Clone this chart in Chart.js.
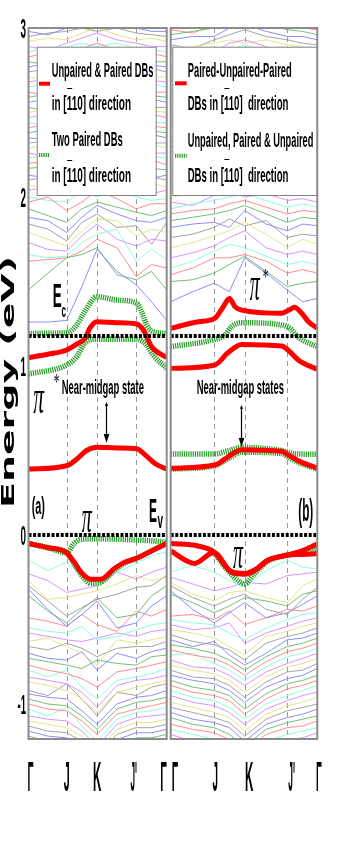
<!DOCTYPE html>
<html>
<head>
<meta charset="utf-8">
<script src="https://cdn.jsdelivr.net/npm/chart.js@4.4.0/dist/chart.umd.min.js"></script>
<style>
  html, body { margin: 0; padding: 0; background: #fff; width: 341px; height: 850px; overflow: hidden; }
  canvas { position: absolute; top: 0; }
  #panelA { left: 0; }
  #panelB { left: 169px; }
</style>
</head>
<body>
<canvas id="panelA" width="169" height="850"></canvas>
<canvas id="panelB" width="172" height="850"></canvas>
<script>
(function() {
    'use strict';

    // ---- axis data ----
    const kLabels = ['\u0393', 'J', 'K', "J'", '\u0393'];
    const yTickValues = [3, 2, 1, 0, -1];
    const yTickLabels = ['3', '2', '1', '0', '-1'];
    const energyRange = [-1.207, 3];
    const bandEdges = [0, 1.178];            // Ev, Ec

    // high symmetry points (fraction of path) for each panel
    const kSymA = [0, 0.276, 0.496, 0.78, 1];
    const kSymB = [0, 0.297, 0.505, 0.795, 1];
    // k grid used for the background bands
    const kGridA = [0, 0.14, 0.276, 0.386, 0.496, 0.64, 0.78, 0.89, 1];
    const kGridB = [0, 0.15, 0.297, 0.40, 0.505, 0.65, 0.795, 0.90, 1];

    // ---- panel (a) highlighted bands ----
    const aRedCondK = [0, 0.14, 0.276, 0.35, 0.41, 0.445, 0.494, 0.64, 0.783, 0.831, 0.891, 1];
    const aRedCondE = [1.05, 1.07, 1.095, 1.13, 1.165, 1.225, 1.262, 1.256, 1.249, 1.213, 1.114, 1.05];
    const aGreenUpK = [0, 0.276, 0.349, 0.421, 0.494, 0.64, 0.783, 0.819, 0.855, 0.903, 1];
    const aGreenUpE = [1.193, 1.197, 1.243, 1.341, 1.41, 1.39, 1.371, 1.321, 1.243, 1.203, 1.193];
    const aGreenLowK = [0, 0.276, 0.349, 0.409, 0.494, 0.64, 0.783, 0.855, 0.903, 1];
    const aGreenLowE = [0.953, 1.006, 1.055, 1.138, 1.158, 1.158, 1.158, 1.124, 1.065, 0.986];
    const aRedGapK = [0, 0.276, 0.35, 0.42, 0.494, 0.64, 0.783, 0.85, 0.92, 1];
    const aRedGapE = [0.39, 0.41, 0.45, 0.50, 0.52, 0.515, 0.51, 0.47, 0.42, 0.39];
    const aValK = [0, 0.14, 0.276, 0.33, 0.385, 0.45, 0.52, 0.626, 0.70, 0.783, 0.9, 1];
    const aRedValE = [-0.05, -0.075, -0.105, -0.16, -0.225, -0.262, -0.262, -0.195, -0.16, -0.136, -0.09, -0.05];
    const aGreenValE = [-0.05, -0.075, -0.105, -0.17, -0.24, -0.285, -0.28, -0.205, -0.165, -0.14, -0.09, -0.05];
    const aGreenValUpK = [0, 0.14, 0.276, 0.33, 0.37, 0.494, 0.64, 0.783, 0.9, 1];
    const aGreenValUpE = [-0.05, -0.075, -0.105, -0.05, -0.028, -0.022, -0.025, -0.03, -0.035, -0.045];

    // ---- panel (b) highlighted bands ----
    const bRedUpK = [0, 0.188, 0.30, 0.359, 0.40, 0.439, 0.484, 0.757, 0.814, 0.843, 0.894, 0.94, 1];
    const bRedUpE = [1.223, 1.262, 1.282, 1.351, 1.40, 1.351, 1.331, 1.312, 1.335, 1.347, 1.312, 1.262, 1.223];
    const bRedLowK = [0, 0.302, 0.386, 0.484, 0.757, 0.80, 0.87, 1];
    const bRedLowE = [0.986, 1.006, 1.075, 1.128, 1.118, 1.095, 1.036, 0.98];
    const bGreenCondK = [0, 0.302, 0.37, 0.416, 0.484, 0.757, 0.814, 0.87, 1];
    const bGreenCondE = [1.114, 1.158, 1.183, 1.233, 1.256, 1.243, 1.223, 1.17, 1.114];
    const bGapK = [0, 0.302, 0.37, 0.416, 0.484, 0.757, 0.80, 0.87, 1];
    const bRedGapE = [0.395, 0.414, 0.45, 0.478, 0.505, 0.495, 0.475, 0.44, 0.395];
    const bGreenGapLowE = [0.39, 0.41, 0.44, 0.465, 0.49, 0.482, 0.462, 0.43, 0.39];
    const bGreenGapUpK = [0, 0.30, 0.40, 0.484, 0.60, 0.757, 0.85, 1];
    const bGreenGapUpE = [0.479, 0.48, 0.50, 0.518, 0.515, 0.50, 0.48, 0.478];
    const bRedVal1K = [0, 0.186, 0.295, 0.414, 0.505, 0.573, 0.664, 0.795, 0.891, 1];
    const bRedVal1E = [-0.05, -0.065, -0.10, -0.217, -0.227, -0.207, -0.148, -0.118, -0.095, -0.053];
    const bRedVal2K = [0, 0.164, 0.27, 0.295, 0.414, 0.505, 0.573, 0.664, 0.795, 0.891, 1];
    const bRedVal2E = [-0.095, -0.168, -0.11, -0.105, -0.22, -0.232, -0.21, -0.15, -0.12, -0.115, -0.11];
    const bGreenValK = [0.295, 0.40, 0.46, 0.505, 0.56, 0.664, 0.795, 0.891, 1];
    const bGreenValE = [-0.105, -0.22, -0.27, -0.29, -0.24, -0.155, -0.12, -0.10, -0.08];

    // ---- background bands, panel (a) ----
    const condA = [
        [1.26, 1.26, 1.27, 1.47, 1.69, 1.56, 1.48, 1.38, 1.27],
        [1.45, 1.55, 1.64, 1.66, 1.70, 1.54, 1.51, 1.56, 1.45],
        [1.62, 1.63, 1.64, 1.68, 1.75, 1.70, 1.53, 1.60, 1.58],
        [1.66, 1.64, 1.65, 1.73, 1.78, 1.81, 1.62, 1.69, 1.63],
        [1.73, 1.69, 1.68, 1.77, 1.84, 1.75, 1.71, 1.75, 1.74],
        [1.79, 1.75, 1.71, 1.80, 1.87, 1.86, 1.77, 1.81, 1.79],
        [1.84, 1.81, 1.74, 1.85, 1.90, 1.82, 1.83, 1.72, 1.85],
        [1.88, 1.86, 1.79, 1.88, 1.95, 1.90, 1.86, 1.85, 1.88],
        [1.93, 1.89, 1.85, 1.93, 1.97, 1.94, 1.91, 1.89, 1.92],
        [1.97, 2.00, 1.92, 1.97, 2.04, 1.99, 1.93, 1.96, 1.96],
        [2.00, 1.98, 1.97, 2.03, 2.00, 2.04, 2.00, 1.98, 1.99],
        [2.04, 2.06, 2.02, 2.06, 2.10, 2.05, 2.05, 2.02, 2.04],
        [2.07, 2.05, 2.08, 2.11, 2.07, 2.10, 2.07, 2.08, 2.06],
        [2.10, 2.12, 2.10, 2.14, 2.16, 2.13, 2.10, 2.12, 2.10],
        [2.13, 2.11, 2.15, 2.17, 2.20, 2.15, 2.14, 2.11, 2.13],
        [2.17, 2.18, 2.14, 2.20, 2.23, 2.20, 2.17, 2.17, 2.16],
        [2.20, 2.21, 2.20, 2.24, 2.22, 2.23, 2.20, 2.22, 2.19],
        [2.23, 2.25, 2.23, 2.26, 2.30, 2.26, 2.24, 2.24, 2.23],
        [2.26, 2.24, 2.28, 2.30, 2.27, 2.30, 2.27, 2.26, 2.26],
        [2.29, 2.31, 2.29, 2.33, 2.35, 2.32, 2.29, 2.31, 2.29],
        [2.32, 2.33, 2.34, 2.36, 2.39, 2.35, 2.33, 2.32, 2.32],
        [2.35, 2.34, 2.37, 2.40, 2.37, 2.38, 2.36, 2.37, 2.35],
        [2.38, 2.40, 2.38, 2.42, 2.45, 2.41, 2.39, 2.39, 2.38],
        [2.41, 2.43, 2.43, 2.46, 2.43, 2.45, 2.42, 2.42, 2.41],
        [2.44, 2.42, 2.46, 2.48, 2.51, 2.47, 2.46, 2.44, 2.44],
        [2.47, 2.49, 2.48, 2.52, 2.53, 2.51, 2.48, 2.49, 2.47],
        [2.50, 2.52, 2.53, 2.55, 2.52, 2.55, 2.51, 2.51, 2.50],
        [2.53, 2.51, 2.55, 2.58, 2.61, 2.57, 2.55, 2.53, 2.53],
        [2.56, 2.58, 2.57, 2.61, 2.63, 2.60, 2.57, 2.58, 2.56],
        [2.59, 2.61, 2.62, 2.64, 2.61, 2.64, 2.61, 2.60, 2.59],
        [2.62, 2.60, 2.64, 2.67, 2.70, 2.66, 2.64, 2.62, 2.62],
        [2.65, 2.67, 2.66, 2.70, 2.73, 2.69, 2.66, 2.67, 2.65],
        [2.68, 2.70, 2.71, 2.73, 2.71, 2.73, 2.70, 2.69, 2.68],
        [2.71, 2.69, 2.73, 2.76, 2.79, 2.75, 2.73, 2.71, 2.71],
        [2.74, 2.76, 2.75, 2.79, 2.82, 2.78, 2.75, 2.76, 2.74],
        [2.77, 2.79, 2.80, 2.82, 2.80, 2.82, 2.79, 2.78, 2.77],
        [2.80, 2.78, 2.82, 2.85, 2.88, 2.84, 2.82, 2.80, 2.80],
        [2.83, 2.85, 2.84, 2.88, 2.91, 2.87, 2.84, 2.85, 2.83],
        [2.86, 2.88, 2.89, 2.91, 2.89, 2.91, 2.88, 2.87, 2.86],
        [2.89, 2.87, 2.91, 2.94, 2.97, 2.93, 2.91, 2.89, 2.89],
        [2.92, 2.94, 2.93, 2.97, 3.00, 2.96, 2.93, 2.94, 2.92],
        [2.95, 2.97, 2.98, 3.00, 2.98, 3.00, 2.97, 2.96, 2.95],
        [2.98, 2.96, 3.00, 3.03, 3.06, 3.02, 3.00, 2.98, 2.98],
        [3.01, 3.03, 3.02, 3.06, 3.09, 3.05, 3.02, 3.03, 3.01]
    ];
    const valA = [
        [-0.15, -0.21, -0.16, -0.24, -0.31, -0.22, -0.17, -0.12, -0.10],
        [-0.23, -0.27, -0.34, -0.32, -0.30, -0.22, -0.26, -0.22, -0.19],
        [-0.27, -0.38, -0.37, -0.35, -0.33, -0.29, -0.24, -0.27, -0.25],
        [-0.30, -0.39, -0.48, -0.43, -0.38, -0.35, -0.31, -0.30, -0.24],
        [-0.32, -0.44, -0.54, -0.47, -0.39, -0.55, -0.52, -0.42, -0.36],
        [-0.36, -0.45, -0.52, -0.44, -0.37, -0.49, -0.47, -0.36, -0.30],
        [-0.49, -0.51, -0.54, -0.47, -0.53, -0.57, -0.45, -0.48, -0.44],
        [-0.55, -0.57, -0.58, -0.54, -0.62, -0.60, -0.56, -0.53, -0.52],
        [-0.58, -0.60, -0.62, -0.63, -0.61, -0.58, -0.60, -0.57, -0.56],
        [-0.63, -0.61, -0.66, -0.70, -0.77, -0.62, -0.64, -0.62, -0.60],
        [-0.66, -0.68, -0.64, -0.67, -0.72, -0.67, -0.66, -0.66, -0.63],
        [-0.70, -0.73, -0.74, -0.69, -0.80, -0.70, -0.73, -0.69, -0.67],
        [-0.73, -0.75, -0.77, -0.79, -0.74, -0.76, -0.77, -0.72, -0.71],
        [-0.77, -0.80, -0.82, -0.85, -0.90, -0.81, -0.79, -0.77, -0.75],
        [-0.80, -0.84, -0.80, -0.90, -0.97, -0.86, -0.84, -0.82, -0.79],
        [-0.84, -0.86, -0.88, -0.93, -1.02, -0.89, -0.86, -0.85, -0.83],
        [-0.87, -0.89, -0.92, -0.97, -1.05, -0.93, -0.90, -0.88, -0.86],
        [-0.92, -0.95, -0.88, -0.97, -1.07, -0.93, -0.95, -0.90, -0.88],
        [-0.94, -0.96, -0.97, -1.04, -1.12, -1.00, -0.96, -0.95, -0.92],
        [-0.97, -1.00, -1.01, -1.07, -1.15, -1.03, -0.99, -0.98, -0.96],
        [-1.00, -1.03, -1.04, -1.10, -1.18, -1.06, -1.03, -1.01, -0.99],
        [-1.03, -1.07, -1.02, -1.13, -1.22, -1.09, -1.05, -1.04, -1.02],
        [-1.07, -1.09, -1.10, -1.16, -1.25, -1.12, -1.08, -1.07, -1.06],
        [-1.10, -1.12, -1.14, -1.19, -1.28, -1.15, -1.11, -1.11, -1.09],
        [-1.13, -1.16, -1.17, -1.22, -1.30, -1.18, -1.14, -1.14, -1.12],
        [-1.16, -1.19, -1.20, -1.25, -1.33, -1.21, -1.17, -1.17, -1.15],
        [-1.19, -1.22, -1.23, -1.28, -1.35, -1.24, -1.20, -1.20, -1.18],
        [-1.22, -1.25, -1.26, -1.31, -1.38, -1.27, -1.23, -1.23, -1.21]
    ];

    // ---- background bands, panel (b) ----
    const condB = [
        [1.38, 1.44, 1.49, 1.44, 1.64, 1.55, 1.45, 1.38, 1.40],
        [1.50, 1.51, 1.55, 1.60, 1.65, 1.56, 1.47, 1.49, 1.50],
        [1.54, 1.58, 1.64, 1.64, 1.66, 1.62, 1.55, 1.57, 1.55],
        [1.58, 1.62, 1.68, 1.72, 1.70, 1.65, 1.60, 1.62, 1.60],
        [1.64, 1.67, 1.71, 1.76, 1.80, 1.70, 1.66, 1.68, 1.66],
        [1.70, 1.73, 1.77, 1.80, 1.85, 1.78, 1.70, 1.75, 1.72],
        [1.76, 1.78, 1.82, 1.87, 1.83, 1.86, 1.76, 1.78, 1.77],
        [1.82, 1.84, 1.85, 1.82, 1.92, 1.84, 1.80, 1.84, 1.83],
        [1.86, 1.88, 1.90, 1.92, 1.95, 1.90, 1.85, 1.88, 1.87],
        [1.90, 1.92, 1.93, 1.96, 1.98, 1.94, 1.90, 1.92, 1.91],
        [1.93, 1.96, 1.98, 2.00, 2.02, 1.98, 1.94, 1.96, 1.94],
        [1.97, 1.95, 2.01, 2.04, 2.00, 2.02, 1.98, 1.99, 1.97],
        [2.00, 2.02, 2.03, 2.07, 2.09, 2.05, 2.01, 2.03, 2.01],
        [2.04, 2.06, 2.08, 2.06, 2.12, 2.09, 2.05, 2.06, 2.04],
        [2.07, 2.05, 2.10, 2.13, 2.16, 2.11, 2.09, 2.07, 2.08],
        [2.11, 2.13, 2.12, 2.16, 2.14, 2.15, 2.11, 2.12, 2.11],
        [2.14, 2.16, 2.17, 2.19, 2.22, 2.18, 2.15, 2.16, 2.14],
        [2.17, 2.15, 2.20, 2.23, 2.25, 2.21, 2.19, 2.18, 2.18],
        [2.21, 2.23, 2.22, 2.26, 2.24, 2.25, 2.21, 2.23, 2.21],
        [2.24, 2.26, 2.27, 2.29, 2.32, 2.28, 2.25, 2.25, 2.24],
        [2.27, 2.25, 2.30, 2.33, 2.30, 2.31, 2.29, 2.28, 2.27],
        [2.30, 2.32, 2.32, 2.36, 2.38, 2.34, 2.31, 2.32, 2.30],
        [2.33, 2.35, 2.37, 2.39, 2.36, 2.38, 2.35, 2.34, 2.33],
        [2.36, 2.34, 2.39, 2.42, 2.45, 2.41, 2.39, 2.37, 2.36],
        [2.39, 2.41, 2.41, 2.45, 2.48, 2.44, 2.41, 2.41, 2.39],
        [2.42, 2.44, 2.46, 2.48, 2.46, 2.48, 2.45, 2.44, 2.42],
        [2.45, 2.43, 2.48, 2.51, 2.54, 2.50, 2.48, 2.46, 2.45],
        [2.48, 2.50, 2.50, 2.55, 2.57, 2.53, 2.50, 2.50, 2.48],
        [2.51, 2.53, 2.55, 2.57, 2.55, 2.57, 2.54, 2.53, 2.51],
        [2.54, 2.52, 2.57, 2.60, 2.63, 2.59, 2.57, 2.55, 2.54],
        [2.57, 2.59, 2.59, 2.64, 2.66, 2.62, 2.59, 2.59, 2.57],
        [2.60, 2.62, 2.64, 2.66, 2.64, 2.66, 2.63, 2.62, 2.60],
        [2.63, 2.61, 2.66, 2.69, 2.72, 2.68, 2.66, 2.64, 2.63],
        [2.66, 2.68, 2.68, 2.73, 2.75, 2.71, 2.68, 2.68, 2.66],
        [2.69, 2.71, 2.73, 2.75, 2.73, 2.75, 2.72, 2.71, 2.69],
        [2.72, 2.70, 2.75, 2.78, 2.81, 2.77, 2.75, 2.73, 2.72],
        [2.75, 2.77, 2.77, 2.82, 2.84, 2.80, 2.77, 2.77, 2.75],
        [2.78, 2.80, 2.82, 2.84, 2.82, 2.84, 2.81, 2.80, 2.78],
        [2.81, 2.79, 2.84, 2.87, 2.90, 2.86, 2.84, 2.82, 2.81],
        [2.84, 2.86, 2.86, 2.91, 2.93, 2.89, 2.86, 2.86, 2.84],
        [2.87, 2.89, 2.91, 2.93, 2.91, 2.93, 2.90, 2.89, 2.87],
        [2.90, 2.88, 2.93, 2.96, 2.99, 2.95, 2.93, 2.91, 2.90],
        [2.93, 2.95, 2.95, 3.00, 3.02, 2.98, 2.95, 2.95, 2.93],
        [2.96, 2.98, 3.00, 3.02, 3.00, 3.02, 2.99, 2.98, 2.96],
        [2.99, 2.97, 3.02, 3.05, 3.08, 3.04, 3.02, 3.00, 2.99]
    ];
    const valB = [
        [-0.22, -0.18, -0.22, -0.27, -0.31, -0.21, -0.15, -0.19, -0.20],
        [-0.25, -0.29, -0.33, -0.31, -0.28, -0.29, -0.24, -0.23, -0.22],
        [-0.28, -0.35, -0.39, -0.34, -0.33, -0.37, -0.40, -0.30, -0.26],
        [-0.30, -0.37, -0.42, -0.38, -0.35, -0.44, -0.47, -0.38, -0.31],
        [-0.33, -0.44, -0.52, -0.46, -0.40, -0.49, -0.46, -0.41, -0.36],
        [-0.35, -0.40, -0.46, -0.42, -0.37, -0.39, -0.42, -0.35, -0.33],
        [-0.48, -0.47, -0.50, -0.45, -0.53, -0.49, -0.44, -0.45, -0.42],
        [-0.50, -0.52, -0.53, -0.58, -0.62, -0.55, -0.50, -0.47, -0.46],
        [-0.53, -0.56, -0.55, -0.52, -0.64, -0.58, -0.54, -0.51, -0.49],
        [-0.56, -0.58, -0.61, -0.66, -0.71, -0.60, -0.57, -0.54, -0.52],
        [-0.59, -0.63, -0.65, -0.68, -0.74, -0.64, -0.60, -0.58, -0.55],
        [-0.62, -0.66, -0.63, -0.71, -0.77, -0.70, -0.62, -0.61, -0.58],
        [-0.65, -0.67, -0.70, -0.74, -0.80, -0.72, -0.66, -0.64, -0.61],
        [-0.68, -0.71, -0.73, -0.77, -0.83, -0.75, -0.69, -0.67, -0.64],
        [-0.71, -0.70, -0.76, -0.80, -0.86, -0.78, -0.72, -0.70, -0.67],
        [-0.74, -0.78, -0.79, -0.83, -0.89, -0.81, -0.76, -0.73, -0.70],
        [-0.77, -0.80, -0.82, -0.86, -0.93, -0.84, -0.78, -0.76, -0.73],
        [-0.80, -0.84, -0.85, -0.89, -0.96, -0.87, -0.81, -0.80, -0.76],
        [-0.83, -0.86, -0.88, -0.92, -0.99, -0.90, -0.85, -0.83, -0.79],
        [-0.86, -0.90, -0.92, -0.95, -1.03, -0.94, -0.88, -0.86, -0.83],
        [-0.89, -0.93, -0.95, -0.98, -1.06, -0.97, -0.91, -0.89, -0.86],
        [-0.92, -0.96, -0.98, -1.02, -1.09, -1.00, -0.95, -0.92, -0.89],
        [-0.95, -0.99, -1.01, -1.05, -1.12, -1.03, -0.98, -0.95, -0.93],
        [-0.99, -1.02, -1.05, -1.08, -1.16, -1.06, -1.01, -0.99, -0.96],
        [-1.02, -1.05, -1.08, -1.11, -1.19, -1.09, -1.04, -1.02, -1.00],
        [-1.05, -1.09, -1.11, -1.14, -1.22, -1.12, -1.08, -1.06, -1.03],
        [-1.08, -1.12, -1.14, -1.18, -1.25, -1.15, -1.11, -1.09, -1.07],
        [-1.12, -1.15, -1.17, -1.21, -1.28, -1.18, -1.14, -1.13, -1.10],
        [-1.15, -1.18, -1.21, -1.24, -1.31, -1.22, -1.18, -1.16, -1.14],
        [-1.18, -1.22, -1.24, -1.27, -1.34, -1.25, -1.21, -1.20, -1.17],
        [-1.21, -1.25, -1.27, -1.30, -1.37, -1.28, -1.24, -1.23, -1.21]
    ];

    // ---- legend text ----
    const aLegendLines = ['Unpaired & Paired DBs', 'in [110] direction', 'Two Paired DBs', 'in [110] direction'];
    const bLegendLines = ['Paired-Unpaired-Paired', 'DBs in [110]  direction', 'Unpaired, Paired & Unpaired', 'DBs in [110]  direction'];

    const SANS = '"Liberation Sans Narrow", "Liberation Sans", Arial, sans-serif';
    const SERIF = '"Liberation Serif", "DejaVu Serif", serif';
    const PALETTE = ['#8080ff', '#66b866', '#ff8080', '#7fffd8', '#d488ff', '#e2e27a', '#9a9a9a'];
    const RED = '#ff0000';
    const GREEN = '#229f22';

    function fontString(size, opt) {
        return (opt.style || 'normal') + ' ' + (opt.weight || 'normal') + ' ' + size + 'px ' + (opt.family || SANS);
    }

    // draw text squeezed / stretched to a given width, returns the x scale used
    function fitText(ctx, str, x, y, size, width, opt) {
        opt = opt || {};
        ctx.save();
        ctx.font = fontString(size, opt);
        ctx.fillStyle = '#000';
        ctx.textBaseline = 'alphabetic';
        ctx.textAlign = 'left';
        const w = ctx.measureText(str).width;
        const sx = width / w;
        ctx.translate(x, y);
        if (opt.rotate) ctx.rotate(opt.rotate);
        ctx.scale(sx, 1);
        let ax = 0;
        if (opt.align === 'center') ax = -w / 2;
        if (opt.align === 'right') ax = -w;
        ctx.fillText(str, ax, 0);
        ctx.restore();
        return sx;
    }

    function pairs(k, e) {
        return k.map((x, i) => ({ x: x, y: e[i] }));
    }

    function backgroundSets(kGrid, bands, offset) {
        return bands.map((vals, i) => ({
            data: pairs(kGrid, vals),
            borderColor: PALETTE[(i + offset) % PALETTE.length],
            borderWidth: 0.9,
            pointRadius: 0,
            tension: 0,
            order: 10
        }));
    }

    function redSet(k, e) {
        return {
            data: pairs(k, e), borderColor: RED, borderWidth: 5, pointRadius: 0,
            cubicInterpolationMode: 'monotone', borderCapStyle: 'butt', order: 3
        };
    }

    function greenSet(k, e) {
        return {
            data: pairs(k, e), borderColor: GREEN, borderWidth: 5.5, pointRadius: 0,
            borderDash: [1.2, 1], cubicInterpolationMode: 'monotone', order: 4
        };
    }

    function edgeSets() {
        return bandEdges.map(e => ({
            data: [{ x: 0, y: e }, { x: 1, y: e }],
            borderColor: '#000', borderWidth: 4, borderDash: [3, 1.6],
            pointRadius: 0, order: 1
        }));
    }

    function makeDecor(cfg) {
        return {
            id: 'decor',
            beforeDatasetsDraw(chart) {
                const { ctx, chartArea: a, scales: { x } } = chart;
                ctx.save();
                ctx.strokeStyle = '#9a9a9a';
                ctx.lineWidth = 1;
                ctx.setLineDash([5, 4]);
                cfg.kSym.slice(1, -1).forEach(k => {
                    const px = Math.round(x.getPixelForValue(k)) + 0.5;
                    ctx.beginPath();
                    ctx.moveTo(px, a.top);
                    ctx.lineTo(px, a.bottom);
                    ctx.stroke();
                });
                ctx.restore();
            },
            afterDatasetsDraw(chart) {
                const { ctx, chartArea: a, scales: { x, y } } = chart;
                const L = cfg.legend;
                const textOpt = { weight: 'bold' };

                // legend box
                ctx.save();
                ctx.fillStyle = '#fff';
                ctx.strokeStyle = '#808080';
                ctx.lineWidth = 1;
                ctx.fillRect(a.left + L.box[0], a.top + L.box[1], L.box[2], L.box[3]);
                ctx.strokeRect(a.left + L.box[0] + 0.5, a.top + L.box[1] + 0.5, L.box[2], L.box[3]);

                // legend samples
                ctx.lineWidth = 4;
                ctx.strokeStyle = RED;
                ctx.beginPath();
                ctx.moveTo(a.left + L.sampleX[0], a.top + L.sampleY[0]);
                ctx.lineTo(a.left + L.sampleX[1], a.top + L.sampleY[0]);
                ctx.stroke();
                ctx.strokeStyle = GREEN;
                ctx.setLineDash([1.2, 1]);
                ctx.beginPath();
                ctx.moveTo(a.left + L.sampleX[0], a.top + L.sampleY[1]);
                ctx.lineTo(a.left + L.sampleX[1], a.top + L.sampleY[1]);
                ctx.stroke();
                ctx.restore();

                // legend text, with the bar over the first "1"
                L.lines.forEach((str, i) => {
                    const tx = a.left + L.textX;
                    const ty = a.top + L.baselines[i];
                    const sx = fitText(ctx, str, tx, ty, L.size, L.widths[i], textOpt);
                    const idx = str.indexOf('[1');
                    if (idx >= 0) {
                        ctx.save();
                        ctx.font = fontString(L.size, textOpt);
                        const pre = ctx.measureText(str.slice(0, idx + 1)).width * sx;
                        const one = ctx.measureText('1').width * sx;
                        ctx.strokeStyle = '#000';
                        ctx.lineWidth = 1;
                        ctx.beginPath();
                        ctx.moveTo(tx + pre + 0.5, Math.round(ty - L.size * 1.06) + 0.5);
                        ctx.lineTo(tx + pre + one, Math.round(ty - L.size * 1.06) + 0.5);
                        ctx.stroke();
                        ctx.restore();
                    }
                });

                // in-plot annotations
                cfg.notes.forEach(n => {
                    fitText(ctx, n.t, x.getPixelForValue(n.k), y.getPixelForValue(n.e), n.size, n.w, {
                        family: n.serif ? SERIF : SANS,
                        style: n.serif ? 'italic' : 'normal',
                        weight: n.serif ? 'normal' : 'bold'
                    });
                });

                // arrow to the near-midgap state
                const ar = cfg.arrow;
                const axp = Math.round(x.getPixelForValue(ar.k)) + 0.5;
                const y1 = y.getPixelForValue(ar.e1);
                const y2 = y.getPixelForValue(ar.e2);
                ctx.save();
                ctx.strokeStyle = '#000';
                ctx.fillStyle = '#000';
                ctx.lineWidth = 1.2;
                ctx.beginPath();
                ctx.moveTo(axp, y1 + 2);
                ctx.lineTo(axp, y2 - 6);
                ctx.stroke();
                ctx.beginPath();
                ctx.moveTo(axp - 2.8, y2 - 9);
                ctx.lineTo(axp + 2.8, y2 - 9);
                ctx.lineTo(axp, y2);
                ctx.closePath();
                ctx.fill();
                ctx.beginPath();
                ctx.moveTo(axp - 1.6, y1 + 4);
                ctx.lineTo(axp + 1.6, y1 + 4);
                ctx.lineTo(axp, y1);
                ctx.closePath();
                ctx.fill();
                ctx.restore();
            },
            afterDraw(chart) {
                const { ctx, chartArea: a, scales: { x, y } } = chart;

                // frame
                ctx.save();
                ctx.strokeStyle = '#8c8c8c';
                ctx.lineWidth = 2;
                ctx.strokeRect(a.left, a.top, a.right - a.left, a.bottom - a.top);
                ctx.restore();

                // k-point labels
                cfg.xLabels.forEach((lb, i) => {
                    fitText(ctx, kLabels[i], x.getPixelForValue(lb.k) + lb.dx, 791, 42, lb.w, {
                        align: lb.align, weight: 'bold'
                    });
                });

                if (!cfg.yAxis) return;

                // energy ticks
                yTickValues.forEach((v, i) => {
                    fitText(ctx, yTickLabels[i], a.left - 2.5, y.getPixelForValue(v) + 10, 27,
                        yTickLabels[i].length > 1 ? 8.5 : 5.5, { align: 'right', weight: 'bold' });
                });

                // axis title
                fitText(ctx, 'Energy (eV)', 13.5, 382, 17, 252, {
                    align: 'center', weight: 'bold', family: '"DejaVu Sans", sans-serif', rotate: -Math.PI / 2
                });
            }
        };
    }

    function buildChart(canvasId, datasets, padding, decor) {
        return new Chart(document.getElementById(canvasId), {
            type: 'line',
            data: { datasets: datasets },
            options: {
                responsive: false,
                animation: false,
                events: [],
                layout: { padding: padding },
                plugins: { legend: { display: false }, tooltip: { enabled: false } },
                scales: {
                    x: { type: 'linear', min: 0, max: 1, display: false },
                    y: { type: 'linear', min: energyRange[0], max: energyRange[1], display: false }
                }
            },
            plugins: [decor]
        });
    }

    // ---- panel (a) ----
    const setsA = []
        .concat(backgroundSets(kGridA, condA, 0))
        .concat(backgroundSets(kGridA, valA, 3))
        .concat([
            greenSet(aGreenUpK, aGreenUpE),
            greenSet(aGreenLowK, aGreenLowE),
            greenSet(aValK, aGreenValE),
            greenSet(aGreenValUpK, aGreenValUpE),
            redSet(aRedCondK, aRedCondE),
            redSet(aRedGapK, aRedGapE),
            redSet(aValK, aRedValE)
        ])
        .concat(edgeSets());

    buildChart('panelA', setsA, { left: 28.5, right: 2.3, top: 28, bottom: 111 }, makeDecor({
        kSym: kSymA,
        yAxis: true,
        legend: {
            box: [8.2, 18.7, 119, 148.3],
            sampleX: [10.5, 21.5], sampleY: [55.7, 127],
            textX: 23.2, size: 21,
            baselines: [48.7, 82, 118, 154],
            widths: [101.6, 79.3, 71, 79.3],
            lines: aLegendLines
        },
        notes: [
            { t: 'E', k: 0.175, e: 1.351, size: 33, w: 9 },
            { t: 'c', k: 0.239, e: 1.292, size: 19, w: 4.5 },
            { t: '\u03c0', k: 0.035, e: 0.722, size: 48, w: 10.7, serif: true },
            { t: '*', k: 0.179, e: 0.864, size: 24, w: 5.5, serif: true },
            { t: 'Near-midgap state', k: 0.24, e: 0.834, size: 21, w: 82.3 },
            { t: '(a)', k: 0.023, e: 0.127, size: 23, w: 13.3 },
            { t: 'E', k: 0.872, e: 0.077, size: 33, w: 8 },
            { t: 'v', k: 0.933, e: 0.04, size: 22, w: 5.5 },
            { t: '\u03c0', k: 0.385, e: 0.02, size: 46, w: 10, serif: true }
        ],
        arrow: { k: 0.561, e1: 0.787, e2: 0.544 },
        xLabels: [
            { k: 0, align: 'left', dx: -1, w: 6 },
            { k: 0.276, align: 'center', dx: 0, w: 6 },
            { k: 0.496, align: 'center', dx: 0, w: 8.3 },
            { k: 0.78, align: 'center', dx: -2.5, w: 6.5 },
            { k: 1, align: 'right', dx: 0, w: 6.5 }
        ]
    }));

    // ---- panel (b) ----
    const setsB = []
        .concat(backgroundSets(kGridB, condB, 0))
        .concat(backgroundSets(kGridB, valB, 3))
        .concat([
            greenSet(bGreenCondK, bGreenCondE),
            greenSet(bGreenGapUpK, bGreenGapUpE),
            greenSet(bGapK, bGreenGapLowE),
            greenSet(bGreenValK, bGreenValE),
            redSet(bRedUpK, bRedUpE),
            redSet(bRedLowK, bRedLowE),
            redSet(bGapK, bRedGapE),
            redSet(bRedVal1K, bRedVal1E),
            redSet(bRedVal2K, bRedVal2E)
        ])
        .concat(edgeSets());

    buildChart('panelB', setsB, { left: 1.7, right: 23.7, top: 28, bottom: 111 }, makeDecor({
        kSym: kSymB,
        yAxis: false,
        legend: {
            box: [1.6, 18.7, 144.4, 148.3],
            sampleX: [4.3, 16], sampleY: [55.3, 127.7],
            textX: 17, size: 21,
            baselines: [48.7, 82, 118.7, 153.7],
            widths: [104, 100.7, 125.7, 100.7],
            lines: bLegendLines
        },
        notes: [
            { t: '\u03c0', k: 0.539, e: 1.39, size: 48, w: 10, serif: true },
            { t: '*', k: 0.625, e: 1.485, size: 24, w: 5.7, serif: true },
            { t: 'Near-midgap states', k: 0.177, e: 0.834, size: 21, w: 87.3 },
            { t: '(b)', k: 0.870, e: 0.085, size: 32, w: 15 },
            { t: '\u03c0', k: 0.425, e: -0.197, size: 46, w: 10, serif: true }
        ],
        arrow: { k: 0.482, e1: 0.769, e2: 0.521 },
        xLabels: [
            { k: 0, align: 'left', dx: 1, w: 6.3 },
            { k: 0.297, align: 'center', dx: 1, w: 5.5 },
            { k: 0.505, align: 'left', dx: 0.3, w: 8.3 },
            { k: 0.795, align: 'left', dx: 1, w: 6.7 },
            { k: 1, align: 'left', dx: -1.3, w: 5.7 }
        ]
    }));
})();
</script>
</body>
</html>
